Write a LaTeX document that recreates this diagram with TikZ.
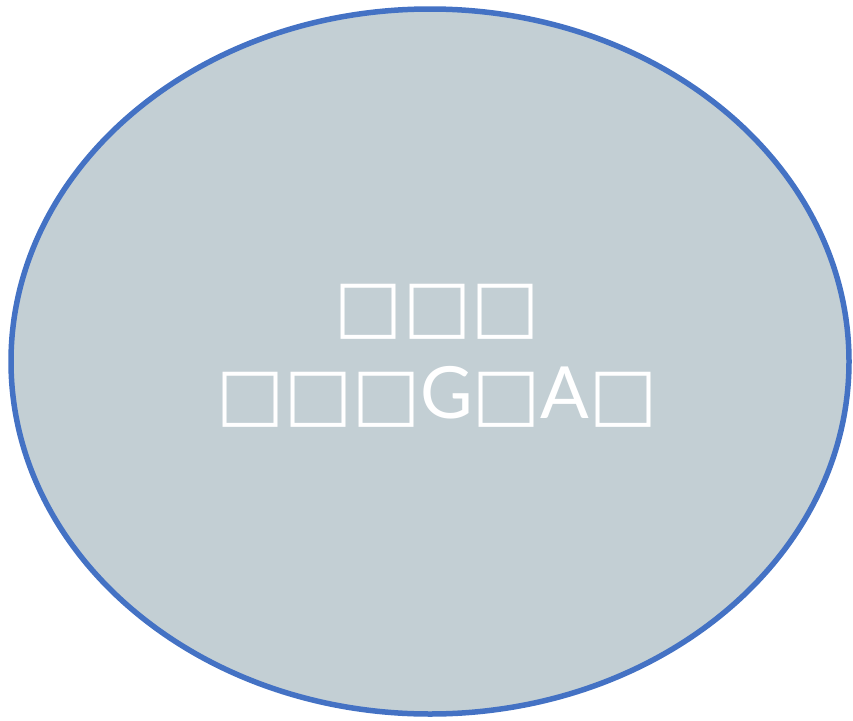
\documentclass[tikz,border=0pt]{standalone}
\usepackage{fontspec}
\setmainfont{Lato}
\newfontfamily\boxfont{DejaVu Sans}
\begin{document}
\begin{tikzpicture}[x=1pt,y=-1pt,
  blob/.style={ellipse, draw=blobline, fill=blobfill, line width=5.5pt, minimum width=838pt, minimum height=705pt, inner sep=0pt},
  lbl/.style={text=white, font=\fontsize{72}{88}\selectfont, align=center}]
\usetikzlibrary{shapes.geometric}
\definecolor{blobline}{HTML}{4472C4}
\definecolor{blobfill}{HTML}{C3CFD4}
\useasboundingbox (0,0) rectangle (853,720);
\node[blob] (e) at (430,361.5) {};
\node[lbl] (t) at (437,356) {{\boxfont □□□}\\{\boxfont □□□}G{\boxfont □}A{\boxfont □}};
\end{tikzpicture}
\end{document}
